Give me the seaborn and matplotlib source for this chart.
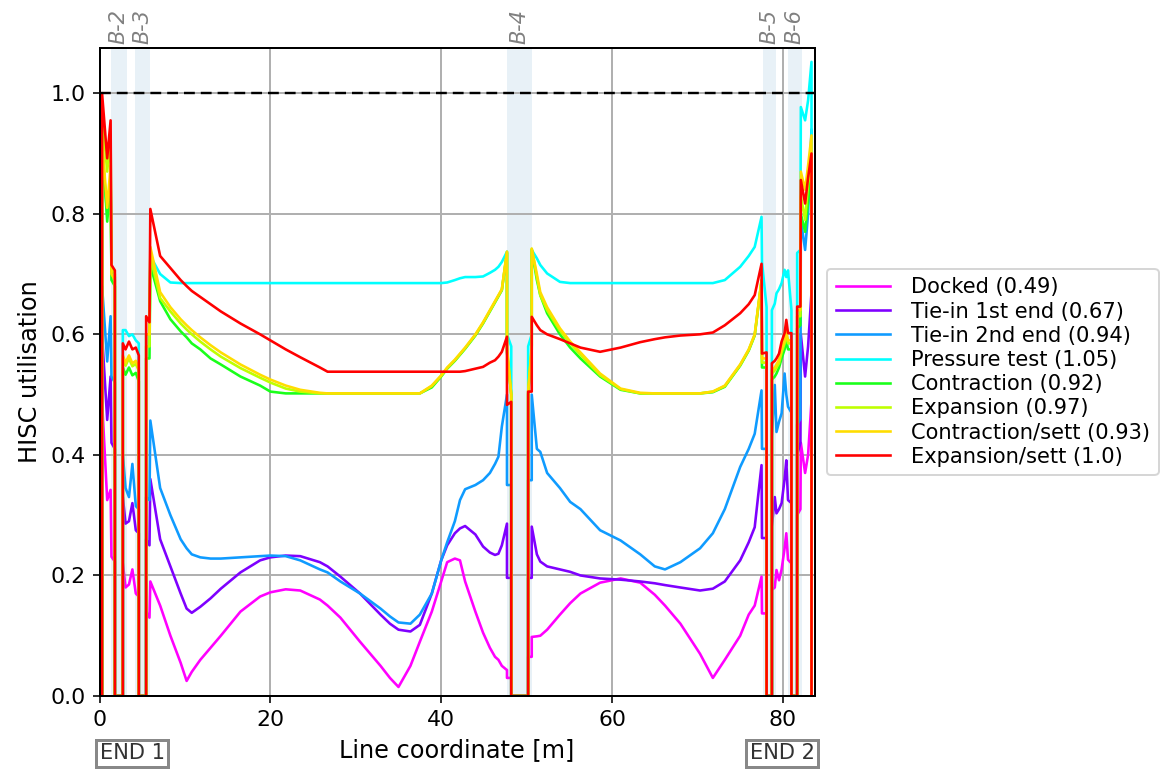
import numpy as np
import pandas as pd
import matplotlib
matplotlib.use("Agg")
import matplotlib.pyplot as plt
import matplotlib.transforms as mtransforms
import seaborn as sns

# ---------------- data ----------------
# x positions (m) of each continuous section between the buried/zero stretches
XA = [0.3, 0.9, 1.3, 1.4, 1.8]
XB = [2.73, 3.05, 3.45, 3.85, 4.25, 4.6]
XC = [5.46, 5.85, 5.95, 7.1, 8.3, 9.5, 10.2, 10.8, 11.8, 13.0, 14.2, 16.5, 18.8, 20.0,
      21.8, 23.5, 25.8, 26.7, 28.2, 30.5, 32.9, 34.0, 35.0, 36.4, 37.5, 38.9, 40.0, 40.7,
      41.6, 42.2, 42.8, 44.0, 44.9, 45.7, 46.3, 46.7, 47.1, 47.7, 47.7, 48.2]
XD = [50.18, 50.6, 50.6, 51.2, 51.6, 52.4, 53.9, 55.1, 56.3, 58.6, 61.0, 63.3, 65.0, 66.2,
      68.0, 70.3, 71.8, 73.2, 75.0, 76.0, 76.7, 77.5, 77.55, 78.09]
XE = [78.71, 79.05, 79.25, 79.55, 79.85, 80.2, 80.4, 80.6, 81.0]
XF = [81.67, 82.05, 82.1, 82.6, 82.95, 83.35]
X_SECTIONS = [XA, XB, XC, XD, XE, XF]

DOCKED = [
    [0.49, 0.325, 0.342, 0.231, 0.223],
    [0.22, 0.18, 0.185, 0.21, 0.17, 0.165],
    [0.14, 0.13, 0.19, 0.15, 0.10, 0.055, 0.025, 0.04, 0.06, 0.08, 0.10, 0.14, 0.165, 0.172,
     0.177, 0.175, 0.16, 0.15, 0.13, 0.09, 0.05, 0.03, 0.015, 0.05, 0.09, 0.14, 0.19, 0.222,
     0.228, 0.225, 0.19, 0.14, 0.105, 0.08, 0.065, 0.06, 0.05, 0.043, 0.03, 0.03],
    [0.065, 0.065, 0.098, 0.099, 0.10, 0.11, 0.135, 0.154, 0.17, 0.188, 0.195, 0.188, 0.168,
     0.15, 0.12, 0.07, 0.03, 0.06, 0.10, 0.135, 0.15, 0.198, 0.137, 0.137],
    [0.176, 0.18, 0.209, 0.192, 0.21, 0.245, 0.27, 0.226, 0.22],
    [0.30, 0.31, 0.42, 0.37, 0.40, 0.49],
]
TIEIN_1 = [
    [0.60, 0.458, 0.53, 0.42, 0.41],
    [0.33, 0.286, 0.29, 0.32, 0.275, 0.27],
    [0.26, 0.25, 0.36, 0.26, 0.215, 0.17, 0.145, 0.138, 0.148, 0.162, 0.178, 0.205, 0.225,
     0.23, 0.233, 0.232, 0.222, 0.215, 0.198, 0.17, 0.135, 0.12, 0.11, 0.107, 0.118, 0.17,
     0.225, 0.25, 0.27, 0.278, 0.282, 0.268, 0.248, 0.238, 0.234, 0.236, 0.25, 0.286, 0.196,
     0.196],
    [0.196, 0.196, 0.281, 0.235, 0.223, 0.215, 0.21, 0.206, 0.20, 0.195, 0.193, 0.19, 0.187,
     0.184, 0.18, 0.175, 0.178, 0.19, 0.225, 0.255, 0.28, 0.383, 0.262, 0.262],
    [0.281, 0.33, 0.303, 0.31, 0.32, 0.36, 0.391, 0.325, 0.32],
    [0.40, 0.42, 0.60, 0.53, 0.58, 0.67],
]
TIEIN_2 = [
    [0.68, 0.555, 0.63, 0.53, 0.52],
    [0.40, 0.345, 0.33, 0.385, 0.315, 0.31],
    [0.33, 0.325, 0.457, 0.345, 0.30, 0.26, 0.245, 0.235, 0.23, 0.228, 0.228, 0.23, 0.232,
     0.233, 0.232, 0.225, 0.21, 0.205, 0.19, 0.17, 0.145, 0.132, 0.122, 0.12, 0.135, 0.17,
     0.225, 0.255, 0.29, 0.325, 0.343, 0.35, 0.358, 0.37, 0.385, 0.397, 0.447, 0.50, 0.35,
     0.35],
    [0.358, 0.358, 0.50, 0.41, 0.405, 0.37, 0.345, 0.322, 0.31, 0.275, 0.258, 0.235, 0.215,
     0.21, 0.222, 0.245, 0.27, 0.31, 0.38, 0.41, 0.435, 0.507, 0.41, 0.41],
    [0.43, 0.516, 0.438, 0.455, 0.469, 0.535, 0.50, 0.48, 0.47],
    [0.45, 0.46, 0.79, 0.74, 0.80, 0.94],
]
PRESSURE = [
    [0.90, 0.80, 0.86, 0.70, 0.695],
    [0.607, 0.607, 0.597, 0.60, 0.59, 0.585],
    [0.60, 0.60, 0.73, 0.70, 0.686, 0.685, 0.685, 0.685, 0.685, 0.685, 0.685, 0.685, 0.685,
     0.685, 0.685, 0.685, 0.685, 0.685, 0.685, 0.685, 0.685, 0.685, 0.685, 0.685, 0.685,
     0.685, 0.685, 0.686, 0.69, 0.693, 0.695, 0.695, 0.696, 0.702, 0.707, 0.712, 0.72, 0.737,
     0.60, 0.58],
    [0.58, 0.60, 0.74, 0.726, 0.715, 0.701, 0.687, 0.685, 0.685, 0.685, 0.685, 0.685, 0.685,
     0.685, 0.685, 0.685, 0.685, 0.69, 0.712, 0.73, 0.745, 0.795, 0.72, 0.645],
    [0.64, 0.651, 0.668, 0.675, 0.685, 0.707, 0.695, 0.706, 0.64],
    [0.735, 0.74, 0.977, 0.955, 0.988, 1.052],
]
CONTRACTION = [
    [0.92, 0.787, 0.85, 0.69, 0.68],
    [0.545, 0.533, 0.545, 0.532, 0.536, 0.522],
    [0.56, 0.56, 0.715, 0.655, 0.625, 0.605, 0.595, 0.585, 0.575, 0.56, 0.55, 0.53, 0.515,
     0.505, 0.502, 0.502, 0.502, 0.502, 0.502, 0.502, 0.502, 0.502, 0.502, 0.502, 0.502,
     0.512, 0.53, 0.543, 0.556, 0.566, 0.576, 0.598, 0.618, 0.638, 0.653, 0.663, 0.673,
     0.735, 0.57, 0.50],
    [0.50, 0.575, 0.74, 0.69, 0.665, 0.635, 0.60, 0.578, 0.56, 0.53, 0.508, 0.502, 0.502,
     0.502, 0.502, 0.502, 0.504, 0.513, 0.548, 0.573, 0.598, 0.688, 0.545, 0.545],
    [0.525, 0.53, 0.535, 0.545, 0.56, 0.575, 0.59, 0.575, 0.575],
    [0.61, 0.615, 0.80, 0.77, 0.82, 0.88],
]
EXPANSION = [
    [0.97, 0.87, 0.93, 0.71, 0.70],
    [0.56, 0.548, 0.56, 0.547, 0.551, 0.54],
    [0.58, 0.58, 0.73, 0.66, 0.638, 0.618, 0.608, 0.60, 0.588, 0.575, 0.563, 0.544, 0.528,
     0.52, 0.51, 0.505, 0.502, 0.502, 0.502, 0.502, 0.502, 0.502, 0.502, 0.502, 0.502,
     0.514, 0.531, 0.544, 0.557, 0.567, 0.577, 0.599, 0.619, 0.639, 0.654, 0.664, 0.674,
     0.737, 0.575, 0.50],
    [0.505, 0.58, 0.742, 0.695, 0.665, 0.64, 0.606, 0.585, 0.566, 0.532, 0.509, 0.502, 0.502,
     0.502, 0.502, 0.502, 0.505, 0.514, 0.549, 0.574, 0.599, 0.69, 0.553, 0.553],
    [0.535, 0.54, 0.545, 0.552, 0.57, 0.585, 0.60, 0.585, 0.585],
    [0.63, 0.63, 0.83, 0.79, 0.85, 0.88],
]
CONTRACTION_SETT = [
    [0.92, 0.81, 0.88, 0.70, 0.69],
    [0.565, 0.553, 0.565, 0.552, 0.556, 0.545],
    [0.60, 0.60, 0.745, 0.67, 0.645, 0.625, 0.615, 0.607, 0.595, 0.582, 0.57, 0.55, 0.533,
     0.525, 0.515, 0.508, 0.503, 0.502, 0.502, 0.502, 0.502, 0.502, 0.502, 0.502, 0.502,
     0.515, 0.532, 0.545, 0.558, 0.568, 0.578, 0.60, 0.62, 0.64, 0.655, 0.665, 0.675, 0.737,
     0.58, 0.50],
    [0.505, 0.582, 0.742, 0.70, 0.67, 0.645, 0.61, 0.588, 0.57, 0.535, 0.51, 0.503, 0.502,
     0.502, 0.502, 0.502, 0.505, 0.515, 0.55, 0.575, 0.60, 0.69, 0.56, 0.56],
    [0.54, 0.545, 0.55, 0.558, 0.575, 0.59, 0.605, 0.59, 0.59],
    [0.64, 0.64, 0.87, 0.84, 0.88, 0.93],
]
EXPANSION_SETT = [
    [1.0, 0.892, 0.955, 0.715, 0.706],
    [0.585, 0.575, 0.588, 0.575, 0.578, 0.565],
    [0.63, 0.62, 0.808, 0.73, 0.71, 0.69, 0.68, 0.672, 0.662, 0.65, 0.638, 0.618, 0.60, 0.59,
     0.575, 0.562, 0.545, 0.538, 0.538, 0.538, 0.538, 0.538, 0.538, 0.538, 0.538, 0.538,
     0.538, 0.538, 0.538, 0.538, 0.539, 0.543, 0.546, 0.553, 0.557, 0.563, 0.571, 0.596,
     0.483, 0.488],
    [0.505, 0.505, 0.629, 0.615, 0.607, 0.60, 0.592, 0.585, 0.578, 0.571, 0.578, 0.587, 0.592,
     0.595, 0.598, 0.60, 0.603, 0.615, 0.635, 0.65, 0.665, 0.717, 0.568, 0.57],
    [0.552, 0.556, 0.56, 0.568, 0.588, 0.602, 0.624, 0.602, 0.602],
    [0.646, 0.646, 0.856, 0.817, 0.86, 0.90],
]

SERIES_LABELS = ["Docked (0.49)", "Tie-in 1st end (0.67)", "Tie-in 2nd end (0.94)",
                 "Pressure test (1.05)", "Contraction (0.92)", "Expansion (0.97)",
                 "Contraction/sett (0.93)", "Expansion/sett (1.0)"]
SERIES_VALUES = [DOCKED, TIEIN_1, TIEIN_2, PRESSURE, CONTRACTION, EXPANSION,
                 CONTRACTION_SETT, EXPANSION_SETT]
COLORS = ["#ff00ff", "#7f00ff", "#0f9bff", "#00ffff", "#1aff1a", "#bfff00", "#ffdd00",
          "#ff0000"]

SPAN_NAMES = ["B-2", "B-3", "B-4", "B-5", "B-6"]
SPAN_START = [1.35, 4.15, 47.66, 77.62, 80.6]
SPAN_END = [3.18, 5.91, 50.58, 79.19, 82.2]

X_MAX = 83.7
Y_MAX = 1.075

# ---------------- build long table ----------------
rows = []
for label, sections in zip(SERIES_LABELS, SERIES_VALUES):
    order = 0
    for xs, ys in zip(X_SECTIONS, sections):
        assert len(xs) == len(ys), (label, len(xs), len(ys))
        pts = [(xs[0], 0.0)] + list(zip(xs, ys)) + [(xs[-1], 0.0)]
        for x, y in pts:
            rows.append({"x": x, "y": y, "series": label, "order": order})
            order += 1
df = pd.DataFrame(rows)

# ---------------- figure ----------------
plt.rcParams.update({
    "font.family": ["DejaVu Sans"],
    "font.size": 11,
    "axes.edgecolor": "black",
    "axes.linewidth": 1.0,
    "grid.color": "#b0b0b0",
    "grid.linewidth": 1.0,
})

fig = plt.figure(figsize=(1163 / 144, 771 / 144), dpi=144)
ax = fig.add_axes([99.5 / 1163, 75 / 771, 715 / 1163, 648 / 771])

trans = mtransforms.blended_transform_factory(ax.transData, ax.transAxes)
for name, s, e in zip(SPAN_NAMES, SPAN_START, SPAN_END):
    ax.axvspan(s, e, color="#1f77b4", alpha=0.1, lw=0, zorder=1)
    ax.text((s + e) / 2, 1.006, name, transform=trans, rotation=90, ha="center",
            va="bottom", color="#808080", style="italic", fontsize=10.5)

sns.lineplot(data=df, x="x", y="y", hue="series", hue_order=SERIES_LABELS,
             palette=COLORS, estimator=None, sort=False, errorbar=None,
             linewidth=1.3, ax=ax)

ax.axhline(1.0, color="black", ls=(0, (4.5, 2.5)), lw=1.2, zorder=3)

ax.set_xlim(0, X_MAX)
ax.set_ylim(0, Y_MAX)
ax.set_xticks([0, 20, 40, 60, 80])
ax.set_yticks([0.0, 0.2, 0.4, 0.6, 0.8, 1.0])
ax.yaxis.set_major_formatter(matplotlib.ticker.FormatStrFormatter("%.1f"))
ax.tick_params(labelsize=11)
ax.grid(True)
ax.set_axisbelow("line")
ax.set_xlabel("Line coordinate [m]", fontsize=12)
ax.set_ylabel("HISC utilisation", fontsize=12)

box = dict(boxstyle="square,pad=0.18", fc="white", ec="#888888", lw=1.5)
ax.text(0, -0.0887, "END 1", transform=trans, ha="left", va="center", color="#333333",
        fontsize=10.5, bbox=box)
ax.text(X_MAX, -0.0887, "END 2", transform=trans, ha="right", va="center",
        color="#333333", fontsize=10.5, bbox=box)

handles, labels = ax.get_legend_handles_labels()
ax.legend(handles, labels, loc="center left", bbox_to_anchor=(1.003, 0.5), fontsize=10.5,
          handlelength=2.6, handletextpad=1.0, labelspacing=0.2, borderpad=0.4)

fig.savefig("out.png", dpi=144)
